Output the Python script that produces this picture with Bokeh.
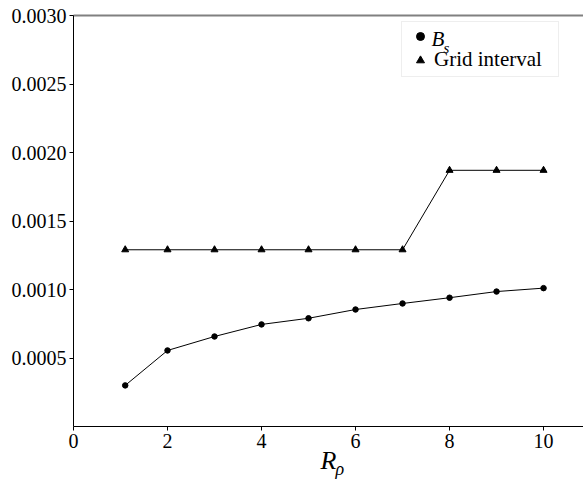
from bokeh.plotting import figure
from bokeh.models import (Range1d, FixedTicker, PrintfTickFormatter, LinearAxis,
                          Legend, LegendItem, Label, Title)
from bokeh.core.properties import value
from bokeh.embed import file_html
from bokeh.resources import INLINE

# ---- data ----
r_rho = [1.1, 2, 3, 4, 5, 6, 7, 8, 9, 10]
b_s = [0.00030, 0.000555, 0.000657, 0.000745, 0.00079, 0.000854,
       0.000898, 0.00094, 0.000985, 0.00101]
grid_interval = [0.00129, 0.00129, 0.00129, 0.00129, 0.00129, 0.00129,
                 0.00129, 0.00187, 0.00187, 0.00187]
x_ticks = [0, 2, 4, 6, 8, 10]
y_ticks = [0.0005, 0.0010, 0.0015, 0.0020, 0.0025, 0.0030]

FONT = "Liberation Serif"

p = figure(width=583, height=483,
           x_range=Range1d(0, 10.85), y_range=Range1d(0, 0.003),
           output_backend="svg", toolbar_location=None,
           min_border_left=73, min_border_top=15, min_border_bottom=57,
           min_border_right=0)
p.xgrid.visible = False
p.ygrid.visible = False
p.outline_line_color = None
p.background_fill_color = "white"
p.border_fill_color = "white"

for ax in (p.xaxis[0], p.yaxis[0]):
    ax.axis_line_color = "black"
    ax.axis_line_width = 1
    ax.major_tick_line_color = "black"
    ax.major_tick_out = 4
    ax.major_tick_in = 0
    ax.minor_tick_line_color = None
    ax.major_label_text_font = FONT
    ax.major_label_text_font_size = "20px"
    ax.major_label_text_color = "black"
    ax.major_label_standoff = 3

p.xaxis[0].ticker = FixedTicker(ticks=x_ticks)
p.yaxis[0].ticker = FixedTicker(ticks=y_ticks)
p.yaxis[0].formatter = PrintfTickFormatter(format="%.4f")

p.xaxis[0].axis_label = "R"
p.xaxis[0].axis_label_text_font = FONT
p.xaxis[0].axis_label_text_font_style = "italic"
p.xaxis[0].axis_label_text_font_size = "26px"
p.xaxis[0].axis_label_text_color = "black"
p.xaxis[0].axis_label_standoff = -5

top = LinearAxis(ticker=FixedTicker(ticks=[]), axis_line_color="#808080",
                 axis_line_width=2, major_tick_out=0, major_tick_in=0,
                 minor_tick_out=0, minor_tick_in=0,
                 major_label_text_font_size="0px")
p.add_layout(top, "above")

# subscript of the x-axis label "R_rho", as a title panel below the axis
rho = Title(text="ρ", align="left", offset=262, standoff=-38, vertical_align="top",
            text_font=FONT, text_font_style="italic", text_font_size="18px",
            text_color="black")
p.add_layout(rho, "below")

# ---- series ----
p.line(r_rho, b_s, line_color="black", line_width=1)
c = p.scatter(r_rho, b_s, marker="circle", size=5.5, color="black")
p.line(r_rho, grid_interval, line_color="black", line_width=1)
t = p.scatter(r_rho, grid_interval, marker="triangle", size=7, color="black")

legend = Legend(items=[LegendItem(label=value(" "), renderers=[c]),
                       LegendItem(label=value("Grid interval"), renderers=[t])],
                location=(328, 349), orientation="vertical",
                label_text_font=FONT, label_text_font_size="21px",
                label_text_color="black", glyph_width=28, glyph_height=20,
                label_standoff=0, label_width=120, padding=4, spacing=1, margin=0,
                border_line_color="#dddddd", border_line_width=1,
                background_fill_color="white", background_fill_alpha=0)
p.add_layout(legend)

# subscript pieces of the legend label "B_s"
p.add_layout(Label(x=358, y=376, x_units="screen", y_units="screen", text="B",
                   text_font=FONT, text_font_style="italic", text_font_size="21px",
                   text_color="black"))
p.add_layout(Label(x=370, y=371, x_units="screen", y_units="screen", text="s",
                   text_font=FONT, text_font_style="italic", text_font_size="15px",
                   text_color="black"))

open("out.html", "w").write(file_html(p, INLINE))
